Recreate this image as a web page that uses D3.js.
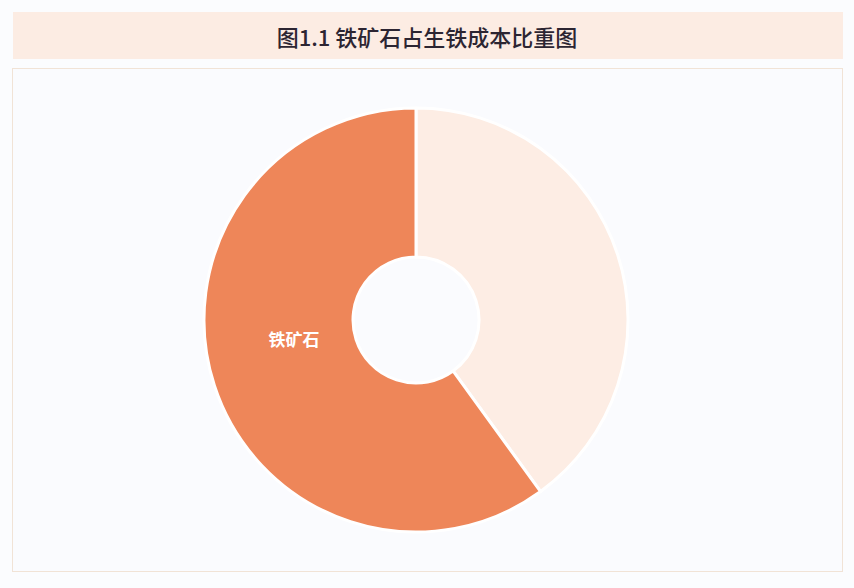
<!DOCTYPE html>
<html>
<head>
<meta charset="utf-8">
<script src="https://cdn.jsdelivr.net/npm/d3@7"></script>
<style>
  body { margin: 0; background: #fbfcfe; }
  svg { display: block; font-family: "Noto Sans CJK SC", "Noto Sans", sans-serif; }
</style>
</head>
<body>
<svg id="chart" width="854" height="588"></svg>
<script>
// data
var categories = ["其他", "铁矿石"];
var values = [40, 60];
var sliceColors = ["#fdede4", "#ee8659"];
var showLabel = [false, true];
var title = "图1.1 铁矿石占生铁成本比重图";

var svg = d3.select("#chart");

// title band
svg.append("rect")
  .attr("x", 13).attr("y", 12)
  .attr("width", 830).attr("height", 47)
  .attr("fill", "#fcece3");

svg.append("text")
  .attr("x", 427).attr("y", 45.5)
  .attr("text-anchor", "middle")
  .attr("font-size", 22)
  .attr("font-weight", 500)
  .attr("fill", "#2c2532")
  .text(title);

// panel
svg.append("rect")
  .attr("x", 12.5).attr("y", 68.5)
  .attr("width", 830).attr("height", 503)
  .attr("fill", "#fafbfe")
  .attr("stroke", "#f1e3d6")
  .attr("stroke-width", 1);

// donut
var cx = 416, cy = 320;
var outerR = 212, innerR = 63;

var pie = d3.pie()
  .sort(null)
  .value(function(d) { return d; });

var arcs = pie(values);

var arc = d3.arc()
  .innerRadius(innerR)
  .outerRadius(outerR);

var g = svg.append("g")
  .attr("transform", "translate(" + cx + "," + cy + ")");

g.selectAll("path")
  .data(arcs)
  .enter().append("path")
  .attr("d", arc)
  .attr("fill", function(d, i) { return sliceColors[i]; })
  .attr("stroke", "#ffffff")
  .attr("stroke-width", 3)
  .attr("stroke-linejoin", "round");

// label, sits a bit above the slice's mid angle
var labelR = (innerR + outerR) / 2 - 14;
g.selectAll("text.lbl")
  .data(arcs.filter(function(d, i) { return showLabel[i]; }))
  .enter().append("text")
  .attr("class", "lbl")
  .attr("transform", function(d) {
    var a = (d.startAngle + d.endAngle) / 2 + 0.152;
    return "translate(" + (labelR * Math.sin(a)) + "," + (-labelR * Math.cos(a)) + ")";
  })
  .attr("text-anchor", "middle")
  .attr("dy", "0.36em")
  .attr("font-size", 17)
  .attr("font-weight", 700)
  .attr("fill", "#ffffff")
  .text(function(d) { return categories[d.index]; });
</script>
</body>
</html>
